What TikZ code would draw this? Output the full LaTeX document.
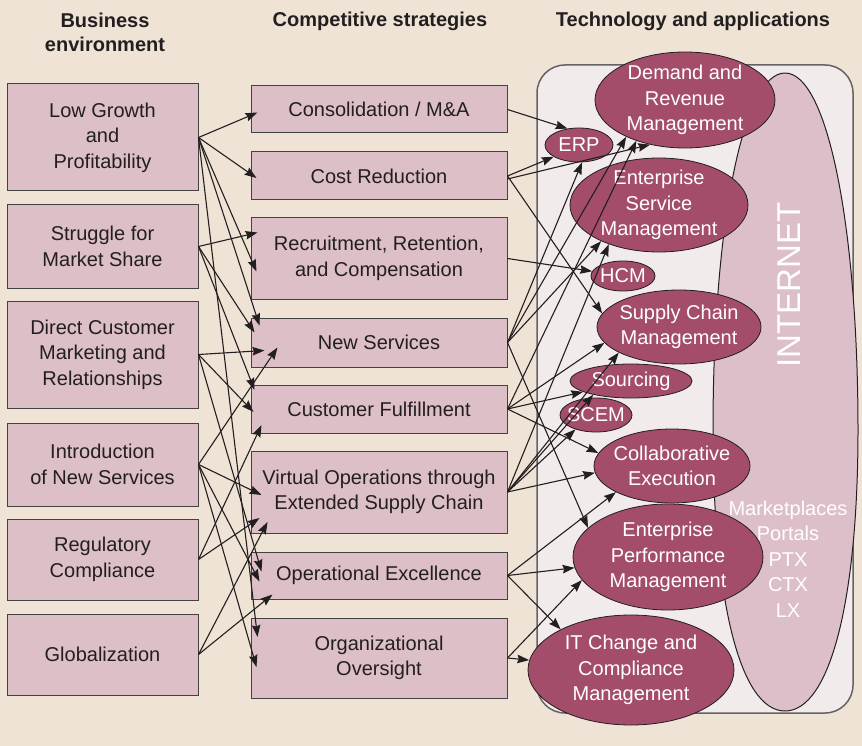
\documentclass[tikz,border=0pt]{standalone}
\usepackage{fontspec}
\setmainfont{Liberation Sans}
\usetikzlibrary{arrows.meta,shapes.geometric}

\definecolor{paper}{HTML}{EFE3D6}
\definecolor{boxpink}{HTML}{DCBFC7}
\definecolor{panel}{HTML}{F2EBEB}
\definecolor{netpink}{HTML}{DDBFC9}
\definecolor{appred}{HTML}{A34D6B}
\definecolor{ink}{HTML}{231F20}

\tikzset{
  txt/.style={font=\fontsize{20}{25.5}\selectfont, text=ink, align=center},
  head/.style={txt, font=\fontsize{20}{24}\selectfont\bfseries},
  envbox/.style={txt, draw=ink!85, fill=boxpink, line width=1pt, minimum width=191pt, inner sep=0pt},
  stratbox/.style={txt, draw=ink!85, fill=boxpink, line width=1pt, minimum width=256pt, inner sep=0pt},
  app/.style={txt, ellipse, draw=ink, fill=appred, text=white, line width=0.8pt, inner sep=-6pt},
  link/.style={-{Stealth[length=12pt,width=8.5pt,inset=1.5pt]}, line width=1.1pt, draw=ink},
}

\begin{document}
\begin{tikzpicture}[x=1pt,y=-1pt]
  \fill[paper] (0,0) rectangle (862,746);
  \useasboundingbox (0,0) rectangle (862,746);

  \node[head] (hEnv)   at (105,32) {Business\\environment};
  \node[head] (hStrat) at (380,21) {Competitive strategies};
  \node[head] (hTech)  at (693,21) {Technology and applications};

  \draw[fill=panel, draw=ink!70, line width=1.5pt, rounded corners=28pt] (537,65) rectangle (853,713);
  \filldraw[fill=netpink, draw=ink, line width=1pt]
    (785,73) .. controls (828,73) and (858,230) .. (858,430)
    .. controls (858,600) and (830,711) .. (785,711)
    .. controls (740,711) and (713,600) .. (713,430)
    .. controls (713,230) and (742,73) .. (785,73);
  \node[font=\fontsize{33}{33}\selectfont, text=white, rotate=90] (inet) at (789,285) {INTERNET};
  \node[txt, text=white] (portals) at (788,559) {Marketplaces\\Portals\\PTX\\CTX\\LX};

  \node[envbox, minimum height=107pt] (L1) at (102.5,137.5) {Low Growth\\and\\Profitability};
  \node[envbox, minimum height=83pt]  (L2) at (102.5,246.5) {Struggle for\\Market Share};
  \node[envbox, minimum height=107pt] (L3) at (102.5,354.5) {Direct Customer\\Marketing and\\Relationships};
  \node[envbox, minimum height=83pt]  (L4) at (102.5,464.5) {Introduction\\of New Services};
  \node[envbox, minimum height=81pt]  (L5) at (102.5,559.5) {Regulatory\\Compliance};
  \node[envbox, minimum height=81pt]  (L6) at (102.5,654.5) {Globalization};

  \node[stratbox, minimum height=47pt] (M1) at (379,109.5) {Consolidation / M\&A};
  \node[stratbox, minimum height=48pt] (M2) at (379,176)   {Cost Reduction};
  \node[stratbox, minimum height=81pt] (M3) at (379,258.5) {Recruitment, Retention,\\and Compensation};
  \node[stratbox, minimum height=49pt] (M4) at (379,342.5) {New Services};
  \node[stratbox, minimum height=48pt] (M5) at (379,409)   {Customer Fulfillment};
  \node[stratbox, minimum height=82pt] (M6) at (379,492)   {Virtual Operations through\\Extended Supply Chain};
  \node[stratbox, minimum height=47pt] (M7) at (379,575.5) {Operational Excellence};
  \node[stratbox, minimum height=80pt] (M8) at (379,658)   {Organizational\\Oversight};

  \node[app, minimum width=180pt, minimum height=96pt]  (DRM)  at (685,100) {Demand and\\Revenue\\Management};
  \node[app, minimum width=68pt,  minimum height=34pt]  (ERP)  at (579,145) {ERP};
  \node[app, minimum width=178pt, minimum height=94pt]  (ESM)  at (659,205) {Enterprise\\Service\\Management};
  \node[app, minimum width=64pt,  minimum height=30pt]  (HCM)  at (623,276) {HCM};
  \node[app, minimum width=164pt, minimum height=74pt]  (SCM)  at (679,327) {Supply Chain\\Management};
  \node[app, minimum width=122pt, minimum height=34pt]  (SRC)  at (631,381) {Sourcing};
  \node[app, minimum width=72pt,  minimum height=34pt]  (SCEM) at (596,415) {SCEM};
  \node[app, minimum width=156pt, minimum height=74pt]  (CE)   at (672,466) {Collaborative\\Execution};
  \node[app, minimum width=190pt, minimum height=106pt] (EPM)  at (668,557) {Enterprise\\Performance\\Management};
  \node[app, minimum width=206pt, minimum height=110pt] (ITC)  at (631,670) {IT Change and\\Compliance\\Management};

  \draw[link] (L1.east) to ([shift={(7,3)}]M1.west);
  \draw[link] (L1.east) to ([shift={(6,2)}]M2.west);
  \draw[link] (L1.east) to ([shift={(6,13)}]M3.west);
  \draw[link] (L1.east) to ([shift={(9,-17)}]M4.west);
  \draw[link] (L1.east) to ([shift={(7,-21)}]M8.west);
  \draw[link] (L2.east) to ([shift={(7,-26)}]M3.west);
  \draw[link] (L2.east) to ([shift={(4,-10)}]M4.west);
  \draw[link] (L2.east) to ([shift={(4,-19)}]M5.west);
  \draw[link] (L3.east) to ([shift={(14,8)}]M4.west);
  \draw[link] (L3.east) to ([shift={(3,3)}]M5.west);
  \draw[link] (L3.east) to ([shift={(11,-4)}]M7.west);
  \draw[link] (L4.east) to ([shift={(27,5)}]M4.west);
  \draw[link] (L4.east) to ([shift={(11,3)}]M6.west);
  \draw[link] (L4.east) to ([shift={(9,6)}]M7.west);
  \draw[link] (L4.east) to ([shift={(6,9)}]M8.west);
  \draw[link] (L5.east) to ([shift={(11,16)}]M5.west);
  \draw[link] (L5.east) to ([shift={(9,26)}]M6.west);
  \draw[link] (L6.east) to ([shift={(17,30)}]M6.west);
  \draw[link] (L6.east) to ([shift={(22,19)}]M7.west);

  \draw[link] (M1.east) to (ERP.125);
  \draw[link] (M2.east) to (ERP.205);
  \draw[link] ([shift={(0,3)}]M2.east) to (DRM.232);
  \draw[link] (M2.east) to (SCM.170);
  \draw[link] (M3.east) to (HCM);
  \draw[link] (M4.east) to (ERP.280);
  \draw[link] (M4.east) to (DRM.212);
  \draw[link] (M4.east) to (ESM.212);
  \draw[link] (M4.east) to (EPM.160);
  \draw[link] (M5.east) to (DRM.220);
  \draw[link] (M5.east) to (SCM.192);
  \draw[link] (M5.east) to (SRC);
  \draw[link] (M5.east) to (CE.170);
  \draw[link] (M6.east) to (ESM.218);
  \draw[link] (M6.east) to (SCM.203);
  \draw[link] (M6.east) to (SRC.200);
  \draw[link] (M6.east) to (SCEM.215);
  \draw[link] (M6.east) to (CE.185);
  \draw[link] (M7.east) to (CE.205);
  \draw[link] (M7.east) to (EPM);
  \draw[link] (M7.east) to (ITC.150);
  \draw[link] (M8.east) to (EPM.195);
  \draw[link] (M8.east) to (ITC);
\end{tikzpicture}
\end{document}
